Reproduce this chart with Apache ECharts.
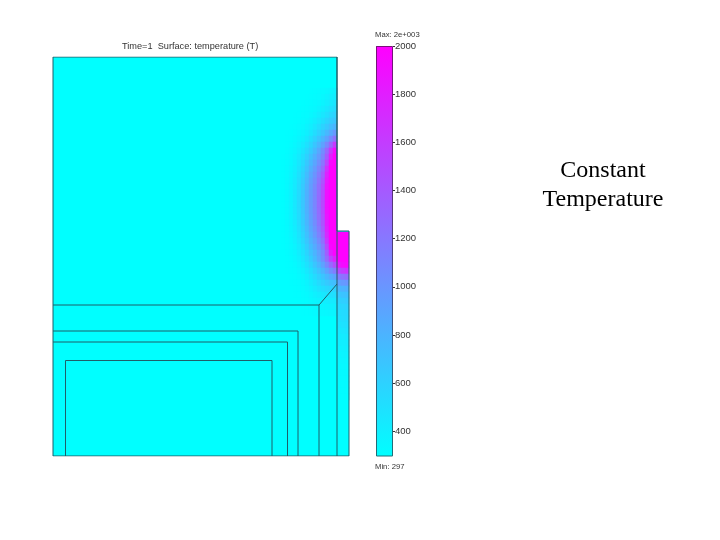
<!DOCTYPE html>
<html><head><meta charset="utf-8">
<style>html,body{margin:0;padding:0;background:#fff}#c{width:720px;height:540px}</style>
<script src="https://cdn.jsdelivr.net/npm/echarts@6/dist/echarts.min.js"></script>
</head><body><div id="c"></div>
<script>
const titleText = 'Time=1  Surface: temperature (T)';
const noteText = 'Constant\nTemperature';
const maxText = 'Max: 2e+003';
const minText = 'Min: 297';
const tickValues = [400,600,800,1000,1200,1400,1600,1800,2000];
const tMin = 297, tMax = 2000;

// domain outlines, in the drawing's own coordinate system
const outline = [[53,57],[337,57],[337,231],[349,231],[349,456],[53,456],[53,57]];
const layerA = [[53,305],[319,305],[319,456]];
const diagonal = [[319,305],[337,284]];
const wall = [[337,57],[337,456]];
const layerB = [[53,331],[298,331],[298,456]];
const layerC = [[53,342],[287.5,342],[287.5,456]];
const core = [[65.5,456],[65.5,360.5],[272,360.5],[272,456]];

// temperature: one row per band, top to bottom
const fieldRows = [
[297,297,297,297,297,298,300,303,308,315,325,340,360,385],
[297,297,297,297,298,300,303,308,316,327,345,370,395,420],
[297,297,297,298,300,303,308,316,328,346,372,405,440,470],
[297,297,298,300,303,308,316,328,346,372,408,450,490,530],
[297,297,299,302,307,315,327,345,372,408,455,505,555,590],
[297,298,300,305,313,325,343,370,408,458,515,575,630,670],
[297,299,303,310,322,340,368,405,460,520,590,660,730,790],
[298,301,307,318,335,362,400,455,525,600,680,770,870,980],
[298,303,312,328,355,392,445,515,595,685,790,910,1060,1240],
[299,306,320,342,380,430,495,580,675,785,920,1090,1330,1620],
[300,310,328,358,405,470,550,645,755,885,1060,1300,1640,1930],
[301,314,338,375,430,510,605,715,830,960,1120,1400,1800,2000],
[302,318,346,392,455,545,655,780,900,1040,1210,1540,1950,2000],
[303,321,354,405,478,578,700,835,960,1110,1300,1680,2000,2000],
[304,325,362,418,498,605,738,885,1010,1170,1380,1770,2000,2000],
[305,328,368,430,515,630,770,925,1055,1225,1440,1830,2000,2000],
[306,330,374,440,530,650,795,950,1085,1260,1490,1870,2000,2000],
[307,332,378,448,540,665,815,965,1100,1280,1510,1890,2000,2000],
[307,333,380,452,545,672,825,970,1105,1290,1520,1900,2000,2000],
[307,333,380,452,545,672,825,970,1105,1290,1520,1900,2000,2000],
[306,332,378,448,540,665,815,965,1100,1280,1505,1890,2000,2000],
[306,330,374,441,530,652,798,950,1085,1260,1480,1860,2000,2000],
[305,328,369,431,516,635,775,925,1060,1225,1440,1820,2000,2000],
[304,325,362,419,500,612,745,890,1020,1180,1390,1780,2000,2000],
[303,322,354,405,480,585,710,850,975,1130,1330,1720,2000,2000,2000,2000,2000],
[302,318,345,390,458,555,670,805,920,1065,1260,1640,2000,2000,2000,2000,2000],
[301,314,336,373,433,520,625,750,860,990,1170,1520,1960,2000,2000,2000,2000],
[300,310,328,357,408,485,580,695,800,915,1070,1370,1820,1970,2000,2000,2000],
[299,306,320,342,385,450,535,635,750,875,1040,1280,1570,1780,2000,2000,2000],
[298,303,313,330,363,415,490,575,675,780,910,1090,1300,1480,1850,1930,1960],
[297,301,308,320,344,385,445,520,605,690,790,920,1060,1170,1520,1600,1650],
[297,299,304,313,330,360,405,470,540,610,685,770,845,910,1180,1240,1280],
[297,298,301,308,320,340,372,425,480,540,600,650,695,730,930,970,1000],
[297,297,299,304,312,325,350,385,430,475,520,555,585,600,770,800,820],
[297,297,298,301,306,315,332,355,390,420,450,475,495,510,670,690,705],
[297,297,297,299,302,308,320,335,360,380,400,420,432,440,600,620,635],
[297,297,297,298,300,304,312,322,338,352,365,378,388,395,555,570,585],
[297,297,297,297,298,301,306,313,322,330,338,345,352,358,515,530,545]
];
const stripRows = [
[500,515,530],[470,490,505],[440,460,475],[415,430,445],[395,405,420],
[375,385,395],[360,368,375],[348,354,360],[338,342,347],[330,333,337],
[323,326,329],[318,320,322],[313,314,316],[309,310,311]
];

const toCells = rows => rows.flatMap((r,y)=>r.map((v,x)=>[x,y,v]));
const idx = n => Array.from({length:n},(_,i)=>String(i));
const line = d => ({type:'line',xAxisIndex:0,yAxisIndex:0,data:d,showSymbol:false,silent:true,z:5,
  lineStyle:{color:'#1f5f68',width:1},itemStyle:{color:'#1f5f68'},animation:false});
const sans='"Liberation Sans",Arial,sans-serif';
const lg=(a,b)=>new echarts.graphic.LinearGradient(0,1,0,0,[{offset:0,color:a},{offset:1,color:b}]);
const small=(size,color)=>({fontFamily:sans,fontSize:size,fontWeight:'normal',color});
const chart=echarts.init(document.getElementById('c'),null,{renderer:'canvas'});
chart.setOption({
 animation:false,backgroundColor:'#fff',
 title:[
  {text:titleText,left:122,top:42,padding:0,textStyle:small(9.2,'#333')},
  {text:maxText,left:375,top:31,padding:0,textStyle:small(7.7,'#333')},
  {text:minText,left:375,top:463,padding:0,textStyle:small(7.7,'#333')},
  {text:noteText,left:603,top:156,padding:0,textAlign:'center',textStyle:{fontFamily:'"Liberation Serif",serif',fontSize:24,lineHeight:29,fontWeight:'normal',color:'#000'}}
 ],
 grid:[
  {left:53,top:57,width:296,height:399},
  {left:281,top:88,width:68,height:228},
  {left:337,top:316,width:12,height:84},
  {left:376,top:46,width:17,height:410}
 ],
 xAxis:[
  {type:'value',gridIndex:0,min:53,max:349,show:false},
  {type:'category',gridIndex:1,data:idx(17),show:false},
  {type:'category',gridIndex:2,data:idx(3),show:false},
  {type:'category',gridIndex:3,data:['T'],show:false}
 ],
 yAxis:[
  {type:'value',gridIndex:0,min:57,max:456,inverse:true,show:false},
  {type:'category',gridIndex:1,data:idx(38),inverse:true,show:false},
  {type:'category',gridIndex:2,data:idx(14),inverse:true,show:false},
  {type:'value',gridIndex:3,min:tMin,max:tMax,position:'right',splitLine:{show:false},
   axisLine:{show:false},
   axisTick:{show:true,length:2,customValues:tickValues,lineStyle:{color:'#333'}},
   axisLabel:{customValues:tickValues,formatter:v=>String(v),margin:2,fontFamily:sans,fontSize:9.5,color:'#333'}},
  {type:'value',gridIndex:3,min:tMin,max:tMax,position:'left',splitLine:{show:false},
   axisLine:{show:false},axisLabel:{show:false},
   axisTick:{show:true,inside:true,length:2,customValues:tickValues,lineStyle:{color:'#1f5f68'}}}
 ],
 visualMap:{show:false,min:tMin,max:tMax,seriesIndex:[1,2],inRange:{color:['#00ffff','#ff00ff']}},
 series:[
  {type:'custom',xAxisIndex:0,yAxisIndex:0,z:1,silent:true,data:outline,
   renderItem:(p,api)=>p.dataIndex===0?{type:'polygon',shape:{points:outline.map(q=>api.coord(q))},style:{fill:'#00ffff'}}:null},
  {type:'heatmap',xAxisIndex:1,yAxisIndex:1,z:2,silent:true,data:toCells(fieldRows),progressive:0},
  {type:'heatmap',xAxisIndex:2,yAxisIndex:2,z:2,silent:true,data:toCells(stripRows),progressive:0},
  {type:'bar',xAxisIndex:3,yAxisIndex:3,data:[tMax],barWidth:'100%',silent:true,
   itemStyle:{color:lg('#00ffff','#ff00ff'),borderColor:lg('#1f7078','#7a107a'),borderWidth:1}},
  line(outline),line(layerA),line(diagonal),line(wall),line(layerB),line(layerC),line(core)
 ]
});
</script></body></html>
